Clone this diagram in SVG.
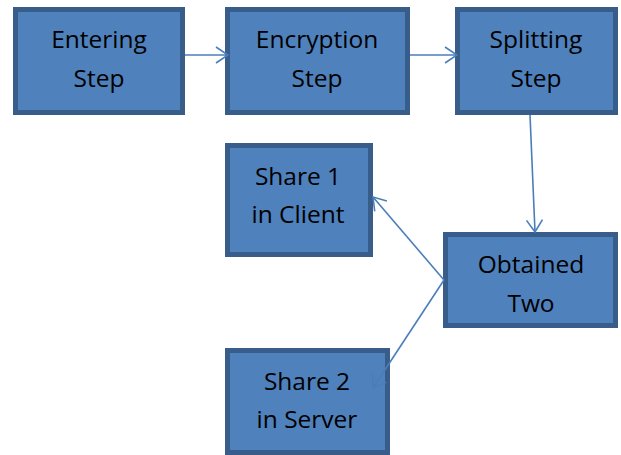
<svg xmlns="http://www.w3.org/2000/svg" width="621" height="455" viewBox="0 0 621 455">
<defs>
<style>
.box{fill:#4F81BD;stroke:#385D8A;stroke-width:5;}
.lbl{font-family:"Open Sans","Liberation Sans",sans-serif;font-size:24.5px;fill:#000;text-anchor:middle;}
.con{stroke:#4A7EBB;stroke-width:1.6;fill:none;}
</style>
<marker id="ah" viewBox="0 0 14 18" refX="13" refY="9" markerWidth="14" markerHeight="18" markerUnits="userSpaceOnUse" orient="auto">
<path d="M1,1 L13,9 L1,17" fill="none" stroke="#4A7EBB" stroke-width="1.6"/>
</marker>
</defs>
<rect width="621" height="455" fill="#fff"/>
<g id="entering">
<rect class="box" x="15.5" y="9.5" width="167" height="103"/>
<text class="lbl" x="99" y="48">Entering</text>
<text class="lbl" x="99" y="87">Step</text>
</g>
<g id="encryption">
<rect class="box" x="227.5" y="9.5" width="180" height="103"/>
<text class="lbl" x="317" y="48">Encryption</text>
<text class="lbl" x="317" y="87">Step</text>
</g>
<g id="splitting">
<rect class="box" x="457.5" y="9.5" width="158" height="103"/>
<text class="lbl" x="536" y="48">Splitting</text>
<text class="lbl" x="536" y="87">Step</text>
</g>
<g id="share1">
<rect class="box" x="227.5" y="145.5" width="143" height="109"/>
<text class="lbl" x="298" y="185">Share 1</text>
<text class="lbl" x="298" y="223">in Client</text>
</g>
<g id="obtained">
<rect class="box" x="445.5" y="234.5" width="170" height="91"/>
<text class="lbl" x="531" y="273">Obtained</text>
<text class="lbl" x="531" y="312">Two</text>
</g>
<g id="share2">
<rect class="box" x="227.5" y="350.5" width="160" height="102"/>
<text class="lbl" x="307" y="390">Share 2</text>
<text class="lbl" x="307" y="428">in Server</text>
</g>
<g id="connectors">
<line class="con" x1="185" y1="55" x2="228" y2="55" marker-end="url(#ah)"/>
<line class="con" x1="410" y1="55" x2="457" y2="55" marker-end="url(#ah)"/>
<line class="con" x1="530" y1="115" x2="535" y2="232" marker-end="url(#ah)"/>
<line class="con" x1="444" y1="280" x2="373" y2="197" marker-end="url(#ah)"/>
<line class="con" x1="444" y1="280" x2="373" y2="388" marker-end="url(#ah)"/>
</g>
</svg>
